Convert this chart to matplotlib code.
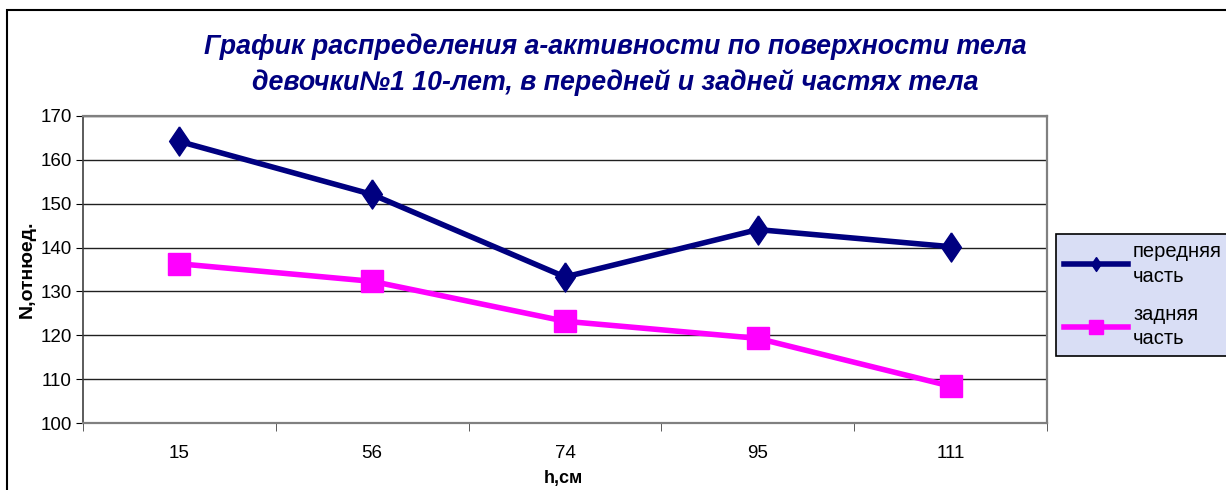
import matplotlib.pyplot as plt
from matplotlib.patches import Rectangle

plt.rcParams['font.family'] = ['Liberation Sans', 'DejaVu Sans']

# data
heights = ['15', '56', '74', '95', '111']
front = [164.2, 152.1, 133.3, 144.1, 140.2]
back = [136.3, 132.3, 123.2, 119.3, 108.4]

navy = '#000080'
pink = '#FF00FF'

fig = plt.figure(figsize=(12.26, 4.9), dpi=100)
ax = fig.add_axes([0.0677, 0.1367, 0.7863, 0.6266])

x = range(len(heights))
diamond = [(0, 1), (0.68, 0), (0, -1), (-0.68, 0), (0, 1)]
ax.plot(x, front, color=navy, lw=4, marker=diamond, markersize=21,
        label='передняя\nчасть')
ax.plot(x, back, color=pink, lw=4, marker='s', markersize=16,
        label='задняя\nчасть')

ax.set_xlim(-0.5, len(heights) - 0.5)
ax.set_ylim(100, 170)
ax.set_yticks(range(100, 171, 10))
ax.set_xticks(list(x))
ax.set_xticklabels(heights)
ax.set_xticks([i + 0.5 for i in range(-1, len(heights))], minor=True)
ax.tick_params(axis='x', which='major', length=0, pad=16, labelsize=13.5)
ax.tick_params(axis='x', which='minor', length=6, direction='out', color='#404040')
ax.tick_params(axis='y', length=5, direction='out', labelsize=13.5, pad=3)

ax.yaxis.grid(True, color='#202020', lw=1)
ax.set_axisbelow(True)
for s in ['top', 'right', 'bottom']:
    ax.spines[s].set_color('#808080')
    ax.spines[s].set_linewidth(1.6)
ax.spines['left'].set_color('#404040')
ax.spines['left'].set_linewidth(1.2)

ax.set_xlabel('h,см', fontsize=13, fontweight='bold')
ax.set_ylabel('N,отнюед.', fontsize=14, fontweight='bold')
ax.xaxis.set_label_coords(0.498, -0.182)
ax.yaxis.set_label_coords(-0.058, 0.5)
ax.xaxis.label.set_va('center')
ax.yaxis.label.set_va('center')

fig.text(0.502, 0.868, 'График распределения а-активности по поверхности тела\nдевочки№1 10-лет, в передней и задней частях тела',
         ha='center', va='center', color=navy, fontsize=19.3, fontweight='bold',
         fontstyle='italic', linespacing=1.4)

leg = ax.legend(loc='upper left', bbox_to_anchor=(0.861, 0.522),
                bbox_transform=fig.transFigure, fontsize=14.5, frameon=True,
                fancybox=False, framealpha=1, borderaxespad=0,
                handlelength=3.2, labelspacing=0.95, borderpad=0.4,
                handletextpad=0.25)
leg.get_frame().set_facecolor('#D9DEF5')
leg.get_frame().set_edgecolor('black')
leg.get_frame().set_linewidth(1.2)
for t in leg.get_texts():
    t.set_linespacing(1.36)
for h in leg.legend_handles:
    h.set_markersize(10)

fig.patches.append(Rectangle((7 / 1226, -0.1), 1.2, 1 - 10 / 490 + 0.1,
                             transform=fig.transFigure, fill=False,
                             edgecolor='black', lw=1.5))

fig.savefig('out.png', dpi=100)
